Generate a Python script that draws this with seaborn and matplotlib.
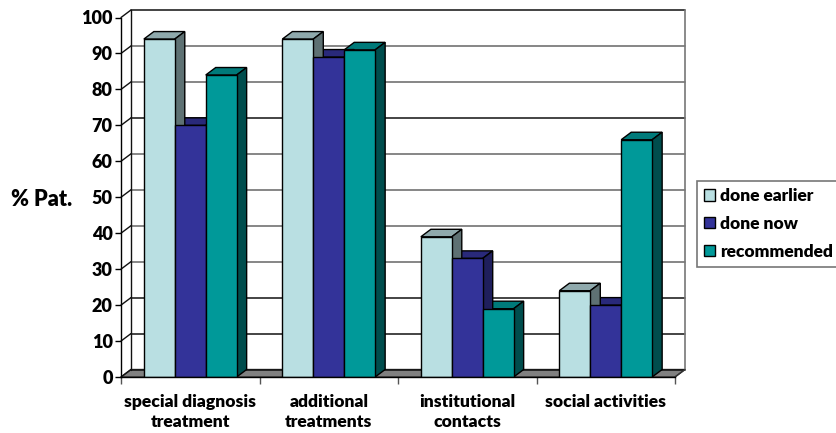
import matplotlib
matplotlib.use('Agg')
import matplotlib.pyplot as plt
import pandas as pd
import seaborn as sns
from matplotlib.patches import Polygon

categories = ['special diagnosis\ntreatment', 'additional\ntreatments', 'institutional\ncontacts', 'social activities']
series_names = ['done earlier', 'done now', 'recommended']
done_earlier = [94, 94, 39, 24]
done_now = [70, 89, 33, 20]
recommended = [84, 91, 19, 66]
y_ticks = list(range(0, 101, 10))

FRONT = ['#B9DFE2', '#333399', '#009999']
TOP = ['#8FA9AC', '#29297A', '#007A7A']
SIDE = ['#5E7173', '#1F1F5C', '#004D4D']

W, H = 836, 433
LEFT, RIGHT, BOTTOM, TOP_Y = 121, 675, 377, 17.5
DX = 4 * 10 / (RIGHT - LEFT)
DY = 100 * 7.5 / (BOTTOM - TOP_Y)

sns.set_style('white')
plt.rcParams['font.family'] = ['Lato', 'DejaVu Sans']
plt.rcParams['font.weight'] = 'heavy'
plt.rcParams['text.color'] = 'black'
plt.rcParams['xtick.labelcolor'] = 'black'
plt.rcParams['ytick.labelcolor'] = 'black'

df = pd.DataFrame({
    'activity': categories * 3,
    'percent': done_earlier + done_now + recommended,
    'series': [s for s in series_names for _ in categories],
})

fig = plt.figure(figsize=(W / 100, H / 100), dpi=100)
ax = fig.add_axes([LEFT / W, 1 - BOTTOM / H, (RIGHT - LEFT) / W, (BOTTOM - TOP_Y) / H])
sns.barplot(data=df, x='activity', y='percent', hue='series', palette=FRONT, width=0.67, gap=0,
            edgecolor='black', linewidth=1, saturation=1, ax=ax, zorder=5)
ax.set_xlim(-0.5, 3.5)
ax.set_ylim(0, 100)
ax.set_xlabel('')
ax.set_ylabel('')


def face(points, color, zorder, edge='black', lw=1):
    ax.add_patch(Polygon(points, closed=True, facecolor=color, edgecolor=edge, linewidth=lw,
                         zorder=zorder, clip_on=False))


# back wall, floor and left wall
x0, x1 = ax.get_xlim()
face([(x0, 0), (x1, 0), (x1 + DX, DY), (x0 + DX, DY)], '#808080', 1, edge='#333333')
for v in y_ticks:
    color = '#111111' if v in (0, 10, 20, 70, 100) else '#666666'
    ax.plot([x0 + DX, x1 + DX], [v + DY, v + DY], color=color, lw=1.1, zorder=2, clip_on=False)
    ax.plot([x0, x0 + DX], [v, v + DY], color='#111111', lw=1, zorder=2, clip_on=False)
ax.plot([x0 + DX, x0 + DX], [DY, 100 + DY], color='#111111', lw=1, zorder=2, clip_on=False)
ax.plot([x1 + DX, x1 + DX], [DY, 100 + DY], color='#777777', lw=1.2, zorder=2, clip_on=False)
ax.plot([x1, x1 + DX], [0, DY], color='#333333', lw=1, zorder=2, clip_on=False)

# top and side faces, right to left so each bar's side covers the next bar's top
n_series = len(ax.containers)
for s in range(n_series - 1, -1, -1):
    for bar in ax.containers[s]:
        left, w, h = bar.get_x(), bar.get_width(), bar.get_height()
        z = 3 + (n_series - s) * 0.1
        face([(left, h), (left + w, h), (left + w + DX, h + DY), (left + DX, h + DY)], TOP[s], z)
        face([(left + w, 0), (left + w + DX, DY), (left + w + DX, h + DY), (left + w, h)], SIDE[s], z)

sns.despine(ax=ax, top=True, right=True)
for spine in ax.spines.values():
    spine.set_color('black')
    spine.set_linewidth(1)
    spine.set_zorder(6)

ax.set_yticks(y_ticks)
ax.tick_params(axis='y', left=True, length=4, width=1, color='black', labelsize=13, pad=2)
ax.set_xticks([i - 0.5 for i in range(len(categories) + 1)], minor=True)
ax.tick_params(axis='x', which='minor', bottom=True, length=5, width=1, color='#555555')
ax.tick_params(axis='x', which='major', bottom=False, labelsize=12.6, pad=9)
for label in ax.get_xticklabels():
    label.set_linespacing(1.3)

fig.text(11 / W, 1 - 199 / H, '% Pat.', fontsize=15.5, fontweight='heavy', va='center', ha='left')

handles, labels = ax.get_legend_handles_labels()
legend = ax.legend(handles, labels, title=None, loc='upper left',
                   bbox_to_anchor=(697 / W, 1 - 181 / H), bbox_transform=fig.transFigure,
                   fontsize=12.5, frameon=True, fancybox=False, framealpha=1, edgecolor='#777777',
                   handlelength=0.65, handleheight=0.65, handletextpad=0.28, labelspacing=0.68,
                   borderaxespad=0, borderpad=0.4)
legend.get_frame().set_linewidth(1.2)
legend.set_zorder(10)

fig.savefig('out.png', dpi=100)
plt.close(fig)
